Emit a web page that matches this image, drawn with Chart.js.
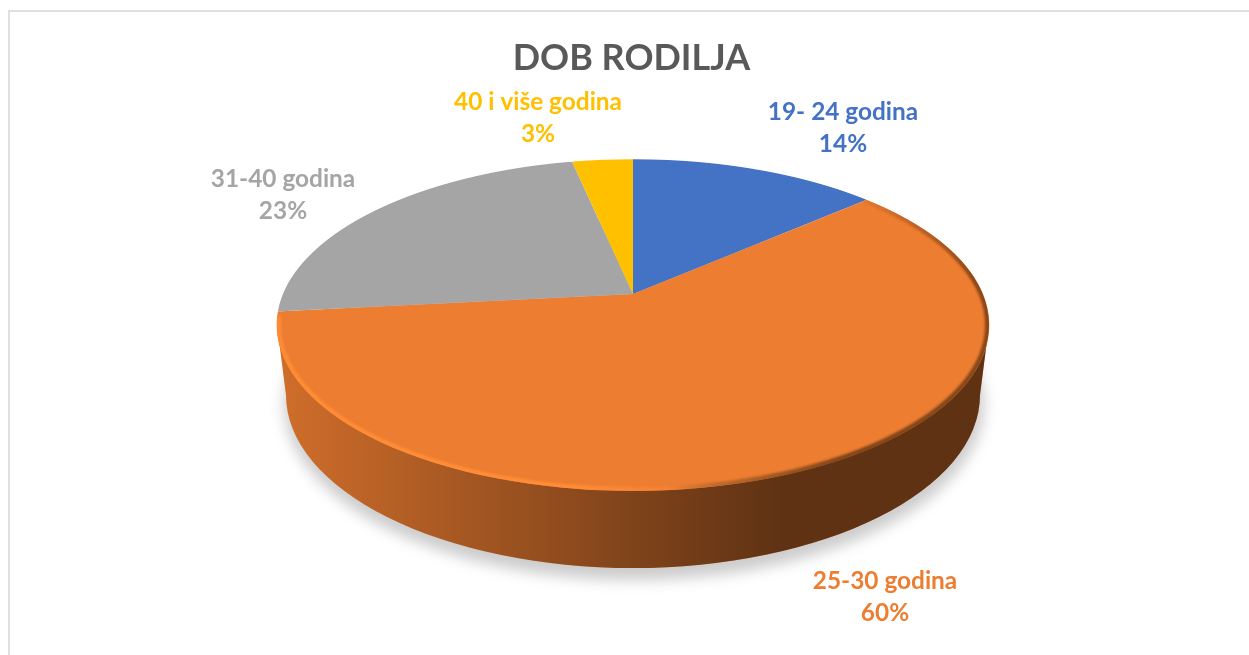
<!DOCTYPE html>
<html><head><meta charset="utf-8">
<style>html,body{margin:0;padding:0;background:#fff}canvas{display:block}</style>
<script src="https://cdn.jsdelivr.net/npm/chart.js@4"></script></head>
<body><canvas id="c" width="1249" height="655"></canvas>
<script>
const categories = ['19- 24 godina','25-30 godina','31-40 godina','40 i više godina'];
const shares = [13.5, 59.8, 23.4, 3.3];
const percentLabels = ['14%','60%','23%','3%'];
const colors = ['#4472c4','#ed7d31','#a5a5a5','#ffc000'];
const titleText = 'DOB RODILJA';

// layout of the tilted disc (perspective view)
const P = {cx:633, cy:294, a:350, b:160, k:0.187};
const E = {cx:633, cy:325, rx:356, ry:166};      // outline of the top face
const B = {cx:633, cy:395, rx:347, ry:173};      // outline of the bottom face
const labelPos = [[843,112],[885,581],[283,179],[538,102]];

const tilted = {
  id:'tilted',
  beforeDatasetsDraw(chart){
    const ctx = chart.ctx, W = chart.width, arcs = chart.getDatasetMeta(0).data;
    // soft ground shadow
    ctx.save();
    ctx.filter='blur(7px)';
    ctx.fillStyle='rgba(0,0,0,0.2)';
    ctx.beginPath();ctx.ellipse(B.cx+1,B.cy+9,B.rx+3,B.ry+3,0,0,Math.PI*2);ctx.fill();
    ctx.restore();
    // side wall
    const wall = new Path2D();
    wall.moveTo(E.cx-E.rx,E.cy);
    wall.lineTo(B.cx-B.rx,B.cy);
    wall.ellipse(B.cx,B.cy,B.rx,B.ry,0,Math.PI,0,true);
    wall.lineTo(E.cx+E.rx,E.cy);
    wall.closePath();
    ctx.fillStyle=colors[1];ctx.fill(wall);
    const g=ctx.createLinearGradient(E.cx-E.rx,0,E.cx+E.rx,0);
    [[0,.12],[.14,.22],[.32,.34],[.51,.47],[.71,.6],[1,.6]].forEach(s=>g.addColorStop(s[0],'rgba(0,0,0,'+s[1]+')'));
    ctx.fillStyle=g;ctx.fill(wall);
    // top face: the library's own arcs, drawn row by row through the perspective mapping
    const el=arcs[0], R=el.outerRadius, X0=el.x, Y0=el.y;
    for(let y=Math.floor(E.cy-E.ry)-1;y<=E.cy+E.ry+1;y++){
      const d=y+0.5-P.cy, v=d/(P.b+P.k*d), w=1-P.k*v;
      if(Math.abs(v)>1.01) continue;
      const sx=P.a/w/R, sy=P.b/(w*w)/R;
      ctx.save();
      ctx.beginPath();ctx.rect(0,y,W,1);ctx.clip();
      ctx.setTransform(sx,0,0,sy,P.cx-sx*X0,y+0.5-sy*(Y0+v*R));
      arcs.forEach(a=>a.draw(ctx));
      ctx.restore();
    }
    // bevel on the rim of the large slice
    ctx.save();
    ctx.beginPath();ctx.ellipse(E.cx,E.cy,E.rx,E.ry,0,0,Math.PI*2);ctx.clip();
    const start=-30*Math.PI/180, rim=ctx.createConicGradient(start,E.cx,E.cy);
    const stop=(deg,c)=>rim.addColorStop((deg+30)/360,c);
    stop(-30,'rgba(90,45,15,0)');
    stop(-8,'rgba(90,45,15,.65)');
    stop(32,'rgba(110,60,22,.85)');
    stop(62,'rgba(184,102,42,.85)');
    stop(78,'rgba(245,130,53,1)');
    stop(110,'#ff8c36');
    stop(181,'#ff8c36');
    stop(182,'rgba(255,140,54,0)');
    stop(330,'rgba(255,140,54,0)');
    ctx.filter='blur(1.3px)';
    ctx.strokeStyle=rim;ctx.lineWidth=6;
    ctx.beginPath();ctx.ellipse(E.cx,E.cy,E.rx-1,E.ry-1,0,0,Math.PI*2);ctx.stroke();
    ctx.restore();
    return false;
  },
  afterDraw(chart){
    const ctx=chart.ctx;
    ctx.save();
    ctx.fillStyle='#e0e0e0';
    ctx.fillRect(8,10,chart.width-8,2);
    ctx.fillRect(8,10,2,chart.height-10);
    ctx.font='bold 24.4px Lato';
    ctx.textAlign='center';ctx.textBaseline='middle';
    categories.forEach((c,i)=>{
      ctx.fillStyle=colors[i];
      ctx.fillText(c,labelPos[i][0],labelPos[i][1]);
      ctx.fillText(percentLabels[i],labelPos[i][0],labelPos[i][1]+32);
    });
    ctx.restore();
  }
};

new Chart(document.getElementById('c'),{
  type:'pie',
  data:{labels:categories,datasets:[{data:shares,backgroundColor:colors,borderWidth:0,hoverOffset:0}]},
  options:{
    responsive:false,animation:false,
    layout:{padding:{left:14}},
    plugins:{
      legend:{display:false},tooltip:{enabled:false},
      title:{display:true,text:titleText,color:'#595959',font:{family:'Lato',size:36,weight:'bold'},padding:{top:37,bottom:10}}
    }
  },
  plugins:[tilted]
});
</script></body></html>
